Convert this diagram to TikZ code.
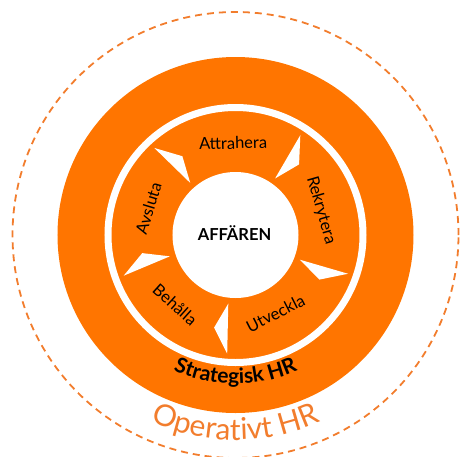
\documentclass[tikz,border=0pt]{standalone}
\usepackage{fontspec}
\setmainfont{Lato}
\usetikzlibrary{decorations.text}
\definecolor{hrorange}{RGB}{255,117,0}
\definecolor{oporange}{RGB}{242,125,45}
\begin{document}
\begin{tikzpicture}[x=1pt,y=1pt,
  cyc/.style={font=\fontsize{16.5pt}{18pt}\selectfont, text=black, inner sep=0pt},
  dartshape/.style={fill=white}]
\useasboundingbox (-235.5,-221) rectangle (227.5,235);
% operative HR dashed circle
\draw[oporange, line width=1.8, dash pattern=on 7 off 5] (0,0) circle[radius=223];
% strategic HR disc
\fill[hrorange] (0,0) circle[radius=178];
\draw[white, line width=7] (0,0) circle[radius=127.5];
% core
\node[circle, fill=white, minimum size=126pt, inner sep=0pt] (core) at (0,0) {};
\node[font=\bfseries\fontsize{16.5pt}{20pt}\selectfont, inner sep=0pt] (aff) at (-1,2) {AFFÄREN};
% cycle arrows
\foreach \a in {132,56,-20,-95,-161}
  \fill[dartshape] (\a+1:119) -- (\a-8:95) -- (\a-1:69) -- cycle;
% cycle labels
\node[cyc, rotate=1.5] (attr) at (91.5:92) {Attrahera};
\node[cyc, rotate=-74] (rekr) at (16:89) {Rekrytera};
\node[cyc, rotate=27] (utv) at (-63:88) {Utveckla};
\node[cyc, rotate=-42] (beh) at (-131:92) {Behålla};
\node[cyc, rotate=73] (avs) at (163:91) {Avsluta};
% ring labels
\path[decorate, decoration={text along path, text align=center,
  text={|\fontsize{21pt}{24pt}\selectfont\bfseries|Strategisk HR}}]
  (-130:149) arc[start angle=-130, end angle=-50, radius=149];
\path[decorate, decoration={text along path, text align=center,
  text={|\color{oporange}\fontsize{30pt}{34pt}\selectfont|Operativt HR}}]
  (-135:205) arc[start angle=-135, end angle=-45, radius=205];
\end{tikzpicture}
\end{document}
